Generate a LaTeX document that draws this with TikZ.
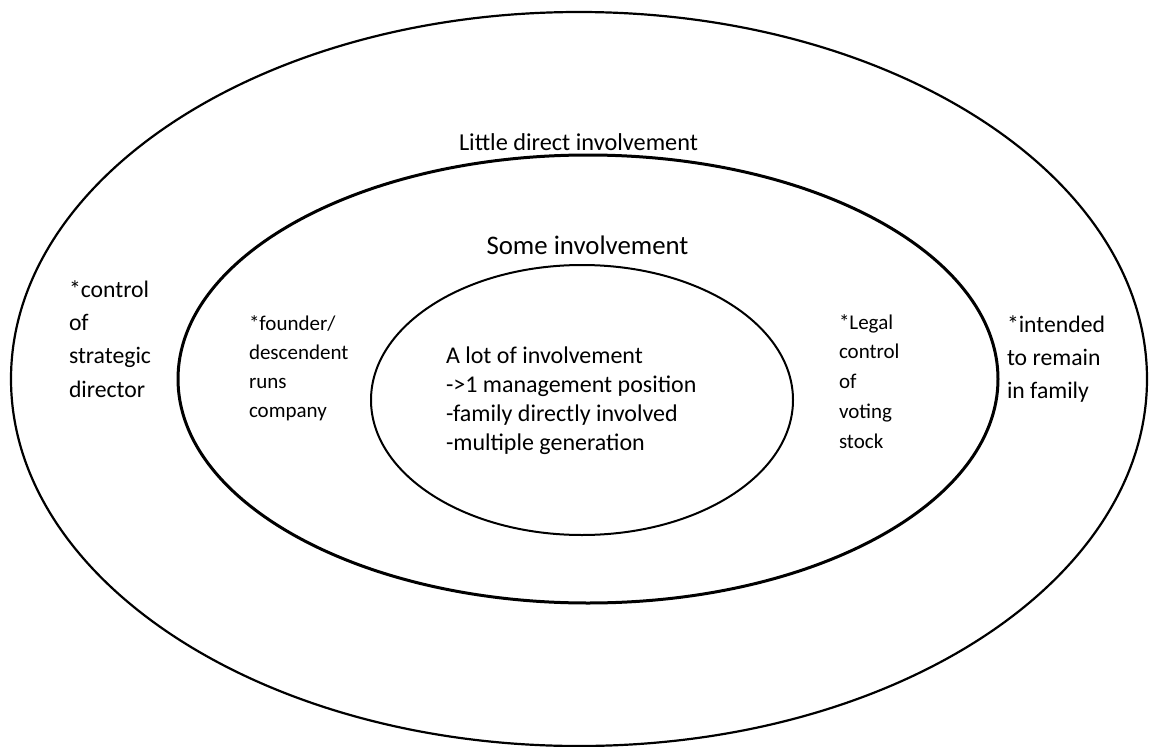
\documentclass[tikz,border=0pt]{standalone}
\usepackage{fontspec}
\setmainfont{Carlito}
\begin{document}
\begin{tikzpicture}[x=1pt,y=-1pt,
  ring/.style={draw=black},
  lbl/.style={inner sep=0pt,outer sep=0pt,align=left,anchor=base west},
  ttl/.style={inner sep=0pt,outer sep=0pt,anchor=base}]
\useasboundingbox[fill=white] (0,0) rectangle (1149,747);
% three nested circles of involvement
\draw[ring,line width=2.2pt] (579,379) ellipse [x radius=568,y radius=367];
\draw[ring,line width=3pt] (588,379) ellipse [x radius=410,y radius=224];
\draw[ring,line width=2pt] (582,400) ellipse [x radius=211,y radius=135];
% ring titles
\node[ttl,font=\fontsize{24.3}{29}\selectfont] (outerT) at (578.5,150) {Little direct involvement};
\node[ttl,font=\fontsize{26.8}{32}\selectfont] (midT) at (587.5,254) {Some involvement};
% inner core (node base sits on the last line)
\node[lbl,font=\fontsize{24}{29.2}\selectfont] (core) at (446,450.6)
  {A lot of involvement\\->1 management position\\-family directly involved\\-multiple generation};
% middle ring notes
\node[lbl,font=\fontsize{21}{29}\selectfont] (founder) at (249,417)
  {*founder/\\descendent\\runs\\company};
\node[lbl,font=\fontsize{21}{29.7}\selectfont] (legal) at (839,448)
  {*Legal\\control\\of\\voting\\stock};
% outer ring notes
\node[lbl,font=\fontsize{23.7}{33.3}\selectfont] (strategic) at (69,397)
  {*control\\of\\strategic\\director};
\node[lbl,font=\fontsize{23.7}{33}\selectfont] (remain) at (1007,398)
  {*intended\\to remain\\in family};
\end{tikzpicture}
\end{document}
